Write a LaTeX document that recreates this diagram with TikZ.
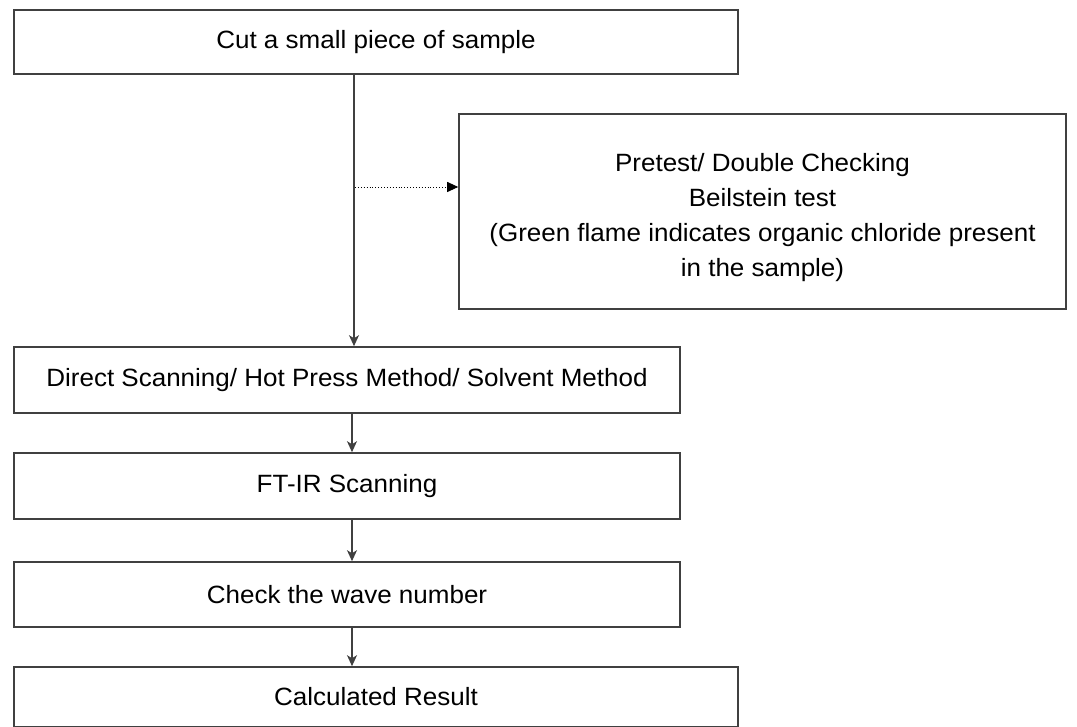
\documentclass[tikz,border=0pt]{standalone}
\usepackage{fontspec}
\setmainfont[FakeStretch=1.04]{Liberation Sans}
\usetikzlibrary{arrows.meta}
\begin{document}
\begin{tikzpicture}[x=1pt,y=-1pt,
  boxx/.style={draw=black!75,line width=1.6pt,inner sep=0pt,font=\fontsize{25}{30}\selectfont},
  conn/.style={draw=black!75,line width=1.4pt,-{Stealth[width=10pt,length=11pt,inset=3pt]}},
  dotconn/.style={draw=black,line width=0.9pt,dotted,-{Triangle[width=10pt,length=11pt]}}]
\useasboundingbox (0,0) rectangle (1077,727);
\node[boxx,minimum width=724pt,minimum height=64pt] (cut) at (376,42) {Cut a small piece of sample};
\node[boxx,minimum width=607pt,minimum height=195pt] (pre) at (762.5,211.5) {};
\node[align=center,inner sep=0pt,font=\fontsize{25}{35}\selectfont] (pretext) at (762.5,218) {Pretest/ Double Checking\\Beilstein test\\(Green flame indicates organic chloride present\\in the sample)};
\node[boxx,minimum width=666pt,minimum height=66pt] (dir) at (347,380) {Direct Scanning/ Hot Press Method/ Solvent Method};
\node[boxx,minimum width=666pt,minimum height=66pt] (ft) at (347,486) {FT-IR Scanning};
\node[boxx,minimum width=666pt,minimum height=65pt] (chk) at (347,594.5) {Check the wave number};
\node[boxx,minimum width=724pt,minimum height=60pt] (res) at (376,697) {Calculated Result};
\coordinate (c1) at (354,0);
\coordinate (c2) at (352,0);
\coordinate (dot) at (355,187);
\draw[conn] (cut.south -| c1) -- (dir.north -| c1);
\draw[dotconn] (dot) -- (dot -| pre.west);
\draw[conn] (dir.south -| c2) -- (ft.north -| c2);
\draw[conn] (ft.south -| c2) -- (chk.north -| c2);
\draw[conn] (chk.south -| c2) -- (res.north -| c2);
\end{tikzpicture}
\end{document}
